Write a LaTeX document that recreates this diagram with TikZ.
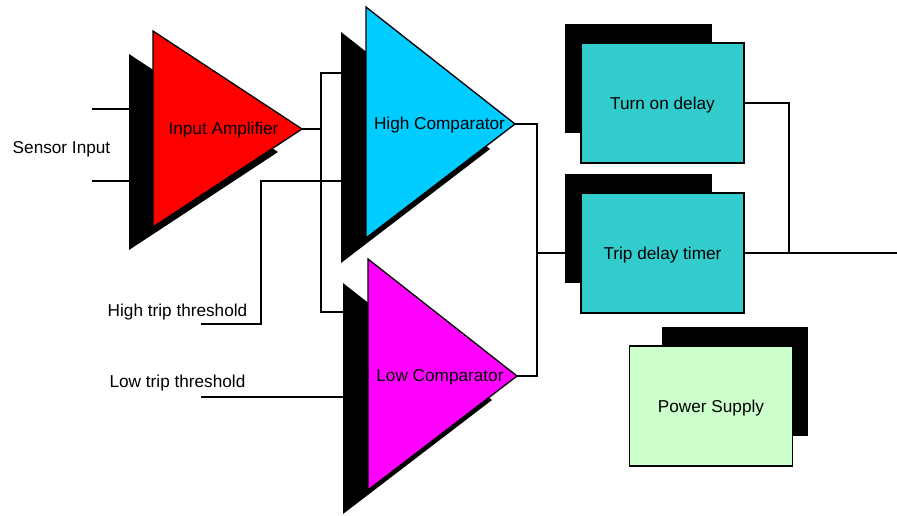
\documentclass[tikz,border=0pt]{standalone}
\usepackage{fontspec}
\setmainfont{Liberation Sans}
\begin{document}
\begin{tikzpicture}[x=0.75pt,y=-0.75pt,
  lbl/.style={font=\fontsize{12.9}{15}\selectfont, inner sep=0pt, yshift=-1.5pt},
  wire/.style={line width=1.5pt},
  shadow/.style={fill=black, draw=none},
  amp/.style={draw=black, line width=1pt, line join=miter},
  blockbox/.style={draw=black, line width=1.4pt, inner sep=0pt,
    minimum width=122.25pt, minimum height=89.5pt,
    text height=12pt, text depth=2pt,
    font=\fontsize{12.9}{15}\selectfont},
  blockshadow/.style={fill=black, draw=none}]
\useasboundingbox (0,0) rectangle (897,515);

% ---- amplifier and comparator triangles (shadow first, then body)
\fill[shadow] (129,54) -- (129,250) -- (278,152) -- cycle;
\filldraw[amp, fill={rgb,255:red,255;green,0;blue,0}] (153,31) -- (153,227) -- (302,129) -- cycle;
\node[lbl] (ampLabel) at (223.5,128) {Input Amplifier};

\fill[shadow] (341,32) -- (341,263) -- (490,149) -- cycle;
\filldraw[amp, fill={rgb,255:red,0;green,204;blue,255}] (366,7) -- (366,238) -- (515,124) -- cycle;
\node[lbl] (hiLabel) at (439.5,123) {High Comparator};

\fill[shadow] (343,283) -- (343,514) -- (492,400) -- cycle;
\filldraw[amp, fill={rgb,255:red,255;green,0;blue,255}] (368,259) -- (368,490) -- (517,376) -- cycle;
\node[lbl] (loLabel) at (440,375) {Low Comparator};

% ---- delay and supply blocks
\fill[blockshadow] (565,24) rectangle (712,133);
\node[blockbox, fill={rgb,255:red,51;green,204;blue,204}] (turnon) at (662.5,103) {Turn on delay};

\fill[blockshadow] (565,174) rectangle (712,283);
\node[blockbox, fill={rgb,255:red,51;green,204;blue,204}] (trip) at (662.5,253) {Trip delay timer};

\fill[blockshadow] (662,327) rectangle (808,436);
\node[blockbox, fill={rgb,255:red,204;green,255;blue,204}] (psu) at (711,406) {Power Supply};

% ---- text labels
\node[lbl] (sensor) at (61.5,147) {Sensor Input};
\node[lbl] (hiTrip) at (177.5,310) {High trip threshold};
\node[lbl] (loTrip) at (177.5,381) {Low trip threshold};

% ---- connection points
\coordinate (s1) at (92,109);
\coordinate (s2) at (92,181);
\coordinate (ampIn1) at (129,109);
\coordinate (ampIn2) at (129,181);
\coordinate (ampOut) at (302,129);
\coordinate (bus1) at (321,129);
\coordinate (hcIn1) at (341,73);
\coordinate (hcIn2) at (341,181);
\coordinate (lcIn1) at (343,312);
\coordinate (lcIn2) at (343,397);
\coordinate (htStart) at (201,324);
\coordinate (htBend) at (261,324);
\coordinate (ltStart) at (201,397);
\coordinate (hcOut) at (515,124);
\coordinate (lcOut) at (517,376);
\coordinate (merge) at (537,253);
\coordinate (tdIn) at (565,253);
\coordinate (outJoin) at (789,253);
\coordinate (outEnd) at (897,253);

% ---- wiring
\draw[wire] (s1) -- (ampIn1);
\draw[wire] (s2) -- (ampIn2);
\draw[wire] (ampOut) -- (bus1);
\draw[wire] (hcIn1) -| (bus1) |- (lcIn1);
\draw[wire] (htStart) -- (htBend) |- (hcIn2);
\draw[wire] (ltStart) -- (lcIn2);
\draw[wire] (hcOut) -| (merge);
\draw[wire] (lcOut) -| (merge);
\draw[wire] (merge) -- (tdIn);
\draw[wire] (turnon.east) -| (outJoin);
\draw[wire] (trip.east) -- (outEnd);
\end{tikzpicture}
\end{document}
